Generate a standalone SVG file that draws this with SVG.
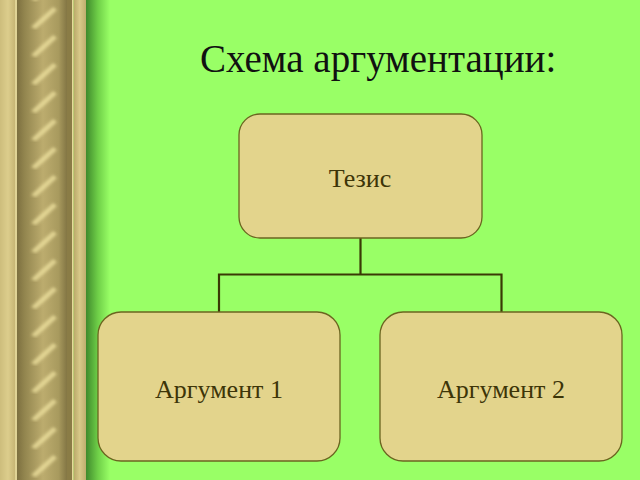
<svg xmlns="http://www.w3.org/2000/svg" width="640" height="480" viewBox="0 0 640 480">
<defs>
<linearGradient id="gGreen" x1="0" y1="0" x2="1" y2="0">
<stop offset="0" stop-color="#3f8a2c"/>
<stop offset="0.5" stop-color="#6fcf48"/>
<stop offset="1" stop-color="#99ff66"/>
</linearGradient>
<linearGradient id="gTanL" x1="0" y1="0" x2="1" y2="0">
<stop offset="0" stop-color="#cdbd7c"/>
<stop offset="0.5" stop-color="#dccd8c"/>
<stop offset="1" stop-color="#c4b272"/>
</linearGradient>
<linearGradient id="gRope" x1="0" y1="0" x2="1" y2="0">
<stop offset="0" stop-color="#7d7040"/>
<stop offset="0.15" stop-color="#93864f"/>
<stop offset="0.5" stop-color="#bcac6e"/>
<stop offset="0.8" stop-color="#a89a5e"/>
<stop offset="1" stop-color="#7a6d3e"/>
</linearGradient>
<linearGradient id="gTanR" x1="0" y1="0" x2="1" y2="0">
<stop offset="0" stop-color="#b8a868"/>
<stop offset="0.5" stop-color="#d8c988"/>
<stop offset="1" stop-color="#bfae6e"/>
</linearGradient>
<filter id="fBlur" x="-20%" y="-20%" width="140%" height="140%">
<feGaussianBlur stdDeviation="1.6"/>
</filter>
<pattern id="pRope" x="0" y="2" width="60" height="28" patternUnits="userSpaceOnUse">
<path d="M31 25 L53 5 L57 8 L36 27 Z" fill="#ecdf9c" opacity="0.8" filter="url(#fBlur)"/>
</pattern>
<style>
.box{fill:#e3d48c;stroke:#6b6420;stroke-width:1.3}
.lbl{font-family:"Liberation Serif","Times New Roman",serif;fill:#3d3508;text-anchor:middle}
.conn{fill:none;stroke:#3a3a05;stroke-width:2.2}
</style>
</defs>
<rect width="640" height="480" fill="#99ff66"/>
<g id="border">
<rect x="0" y="0" width="16" height="480" fill="url(#gTanL)"/>
<rect x="15" y="0" width="2" height="480" fill="#e0d396"/>
<rect x="17" y="0" width="52" height="480" fill="url(#gRope)"/>
<rect x="17" y="0" width="52" height="480" fill="url(#pRope)"/>
<rect x="67" y="0" width="5" height="480" fill="#8a7c46"/>
<rect x="72" y="0" width="1.5" height="480" fill="#e6d99a"/>
<rect x="73.5" y="0" width="12.5" height="480" fill="url(#gTanR)"/>
<rect x="86" y="0" width="24" height="480" fill="url(#gGreen)"/>
</g>
<text x="200" y="72" font-family="'Liberation Serif','Times New Roman',serif" font-size="39" fill="#111">Схема аргументации:</text>
<g id="connectors">
<path class="conn" d="M360.5 238 V274.5 M219 312 V274.5 H501.5 V312"/>
</g>
<g id="thesis">
<rect class="box" x="239" y="114" width="243" height="124" rx="21"/>
<text class="lbl" x="360" y="187" font-size="26">Тезис</text>
</g>
<g id="arg1">
<rect class="box" x="98" y="312" width="242" height="149" rx="23"/>
<text class="lbl" x="219" y="398" font-size="26">Аргумент 1</text>
</g>
<g id="arg2">
<rect class="box" x="380" y="312" width="242" height="149" rx="23"/>
<text class="lbl" x="501" y="398" font-size="26">Аргумент 2</text>
</g>
</svg>
